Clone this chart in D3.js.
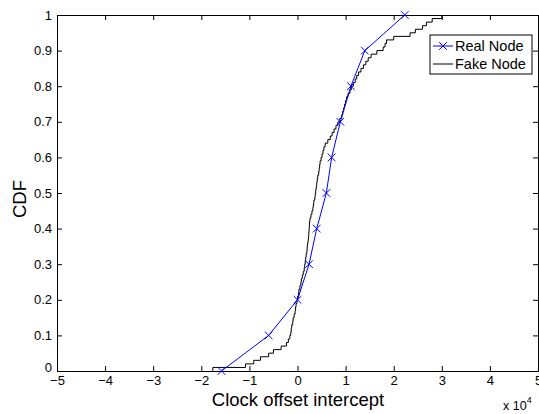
<!DOCTYPE html>
<html>
<head>
<meta charset="utf-8">
<script src="https://cdn.jsdelivr.net/npm/d3@7"></script>
<style>
    body { margin: 0; background: #fff; }
    svg text { font-family: "Liberation Sans", Helvetica, Arial, sans-serif; fill: #000; }
    .tick-label { font-size: 13px; }
    .legend-label { font-size: 14.5px; }
    .title { font-size: 18.5px; }
</style>
</head>
<body>
<div id="chart"></div>
<script>
// Real node: clock offset intercept (x 10^4) vs CDF
const realX = [-1.58, -0.6, 0.0, 0.24, 0.4, 0.6, 0.71, 0.89, 1.11, 1.4, 2.23]
const realY = [0, 0.1, 0.2, 0.3, 0.4, 0.5, 0.6, 0.7, 0.8, 0.9, 1.0]

// Fake node: sorted samples (x 10^4)
const fakeSamples = [
    -1.76, -1.08, -0.91, -0.77, -0.6, -0.5, -0.34, -0.23, -0.19, -0.16,
    -0.14, -0.13, -0.12, -0.1, -0.09, -0.07, -0.05, -0.04, -0.03, -0.01,
    0.0, 0.02, 0.03, 0.05, 0.07, 0.08, 0.1, 0.12, 0.14, 0.15,
    0.16, 0.17, 0.18, 0.195, 0.2, 0.21, 0.22, 0.23, 0.235, 0.24,
    0.245, 0.25, 0.26, 0.28, 0.3, 0.32, 0.33, 0.34, 0.36, 0.37,
    0.38, 0.39, 0.4, 0.41, 0.42, 0.44, 0.45, 0.46, 0.47, 0.49,
    0.51, 0.53, 0.55, 0.575, 0.63, 0.68, 0.72, 0.76, 0.8, 0.84,
    0.88, 0.92, 0.94, 0.96, 0.98, 1.0, 1.02, 1.05, 1.09, 1.12,
    1.16, 1.2, 1.23, 1.27, 1.32, 1.37, 1.42, 1.47, 1.53, 1.65,
    1.78, 1.82, 1.85, 2.0, 2.34, 2.45, 2.6, 2.68, 2.8, 3.0
]

const xTicks = [-5, -4, -3, -2, -1, 0, 1, 2, 3, 4, 5]
const yTicks = [0, 0.1, 0.2, 0.3, 0.4, 0.5, 0.6, 0.7, 0.8, 0.9, 1]
const seriesNames = ["Real Node", "Fake Node"]

const W = 539, H = 414
const margin = { top: 15, right: 1, bottom: 43, left: 57 }
const width = W - margin.left - margin.right
const height = H - margin.top - margin.bottom

const svg = d3.select("#chart").append("svg")
    .attr("width", W)
    .attr("height", H)
const chart = svg.append("g")
    .attr("transform", `translate(${margin.left},${margin.top})`)

const x = d3.scaleLinear().domain([-5, 5]).range([0, width])
const y = d3.scaleLinear().domain([0, 1]).range([height, 0])

// axes, ticks point inward like matlab
const tickLen = 5
chart.append("g")
    .attr("transform", `translate(0,${height})`)
    .call(d3.axisBottom(x).tickValues(xTicks).tickSize(-tickLen).tickPadding(5)
        .tickFormat(d => d < 0 ? "\u2212" + Math.abs(d) : d))
const yAxis = chart.append("g")
    .call(d3.axisLeft(y).tickValues(yTicks).tickSize(-tickLen).tickPadding(5)
        .tickFormat(d => d))
chart.append("g")
    .call(d3.axisTop(x).tickValues(xTicks).tickSize(-tickLen).tickFormat(""))
chart.append("g")
    .attr("transform", `translate(${width},0)`)
    .call(d3.axisRight(y).tickValues(yTicks).tickSize(-tickLen).tickFormat(""))

chart.selectAll(".domain").attr("stroke", "#000").attr("stroke-width", 1)
chart.selectAll(".tick line").attr("stroke", "#000")
chart.selectAll(".tick text").attr("class", "tick-label").attr("font-family", null).attr("font-size", null)

// the y "0" sits a bit higher, clear of the x labels
yAxis.selectAll(".tick text").filter(d => d === 0).attr("y", -4)

// fake node ECDF
const fakePts = [[fakeSamples[0], 0]].concat(fakeSamples.map((v, i) => [v, (i + 1) / fakeSamples.length]))
chart.append("path")
    .datum(fakePts)
    .attr("fill", "none")
    .attr("stroke", "#000")
    .attr("stroke-width", 1)
    .attr("d", d3.line().x(d => x(d[0])).y(d => y(d[1])).curve(d3.curveStepAfter))

// real node line + x markers
const realPts = realX.map((v, i) => [v, realY[i]])
chart.append("path")
    .datum(realPts)
    .attr("fill", "none")
    .attr("stroke", "#0000ff")
    .attr("stroke-width", 1)
    .attr("d", d3.line().x(d => x(d[0])).y(d => y(d[1])))

const cross = d3.symbol().type(d3.symbolX).size(40)
chart.selectAll(".marker")
    .data(realPts)
    .enter().append("path")
    .attr("class", "marker")
    .attr("transform", d => `translate(${x(d[0])},${y(d[1])})`)
    .attr("d", cross)
    .attr("fill", "none")
    .attr("stroke", "#0000ff")
    .attr("stroke-width", 1)

// axis titles
svg.append("text")
    .attr("class", "title")
    .attr("x", 298)
    .attr("y", 406)
    .attr("text-anchor", "middle")
    .text("Clock offset intercept")

svg.append("text")
    .attr("class", "title")
    .attr("transform", `translate(26,${margin.top + height / 2 + 6}) rotate(-90)`)
    .attr("text-anchor", "middle")
    .text("CDF")

// x 10^4 exponent
const expo = svg.append("text")
    .attr("x", 503)
    .attr("y", 410)
    .attr("font-size", 12.5)
expo.append("tspan").text("x 10")
expo.append("tspan").attr("dy", -7).attr("font-size", 9).text("4")

// legend
const legend = svg.append("g").attr("transform", "translate(430,35)")
legend.append("rect")
    .attr("width", 102)
    .attr("height", 39)
    .attr("fill", "#fff")
    .attr("stroke", "#000")
    .attr("stroke-width", 1)
const legendColor = ["#0000ff", "#000"]
seriesNames.forEach((name, i) => {
    const row = legend.append("g").attr("transform", `translate(0,${11 + i * 18})`)
    row.append("line")
        .attr("x1", 3).attr("x2", 23)
        .attr("stroke", legendColor[i])
    if (i === 0) {
        row.append("path")
            .attr("transform", "translate(13,0)")
            .attr("d", cross)
            .attr("fill", "none")
            .attr("stroke", legendColor[i])
    }
    row.append("text")
        .attr("class", "legend-label")
        .attr("x", 25)
        .attr("y", 5)
        .text(name)
})
</script>
</body>
</html>
